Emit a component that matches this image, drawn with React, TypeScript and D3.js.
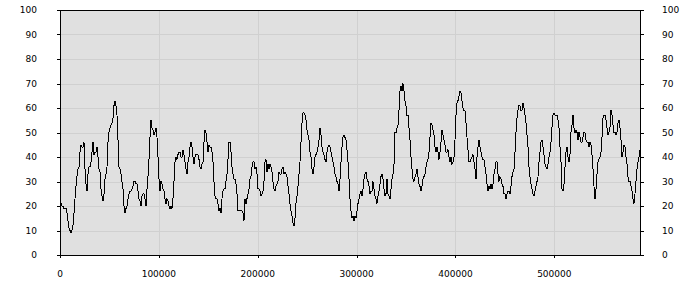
import React from "react";
import * as d3 from "d3";

// x spacing between consecutive samples (data units)
const X_STEP = 1011.5;
const X_MAX = 586670;

// sampled series values (one per step)
const values: number[] = [
  21,21,20,20,19,19,19,17,14,11,10,9,10,12,17,23,28,32,35,36,
  42,45,44,44,46,35,29,26,33,36,36,38,42,46,41,42,42,44,40,35,
  34,27,24,22,25,31,33,36,46,50,52,53,54,56,61,63,61,57,47,36,
  35,33,30,27,20,17,19,20,23,25,26,26,27,28,30,30,29,29,26,23,
  22,20,24,25,25,23,20,27,32,39,48,55,52,51,49,50,52,48,40,31,
  26,30,29,27,26,23,21,23,22,20,19,20,19,23,30,38,40,39,41,42,
  42,40,40,43,41,38,35,33,38,40,44,46,44,40,37,40,41,41,41,39,
  36,35,37,38,46,51,50,46,42,45,44,44,42,38,30,24,23,23,21,18,
  19,17,23,26,27,27,30,33,39,46,46,42,36,33,31,31,29,25,18,18,
  18,18,18,17,14,23,21,23,25,27,31,32,36,38,38,35,36,33,27,27,
  26,24,25,26,30,38,39,34,37,35,37,36,34,30,27,26,28,29,30,34,
  33,33,35,36,33,34,33,32,28,25,21,18,16,13,12,15,21,24,28,33,
  38,46,54,58,58,57,55,51,49,47,42,40,35,33,36,40,41,42,44,47,
  52,49,44,42,41,39,38,42,44,45,44,42,40,38,36,33,32,30,29,26,
  31,38,44,48,49,48,47,43,38,31,23,18,15,16,14,16,15,18,21,23,
  25,26,24,27,31,33,34,31,30,28,25,26,26,30,27,24,23,21,24,26,
  29,32,33,31,27,24,25,31,25,24,23,27,31,33,37,50,50,52,53,59,
  67,69,67,70,67,63,61,57,57,52,47,40,35,31,30,32,33,35,32,29,
  28,26,28,31,32,33,36,38,39,42,48,54,53,51,49,44,42,44,42,39,
  42,46,51,49,47,45,42,42,43,40,38,40,37,38,40,47,57,62,63,65,
  67,66,63,60,59,59,54,48,43,38,38,39,40,41,38,35,31,40,44,47,
  44,42,40,39,39,36,33,29,26,28,27,29,27,29,33,35,38,38,33,30,
  32,31,29,28,25,25,23,25,26,26,25,28,32,34,35,42,50,56,59,61,
  61,59,59,62,60,57,54,49,44,36,32,29,27,25,24,26,28,30,32,38,
  42,46,47,44,41,37,36,35,37,40,42,46,52,57,58,57,57,57,55,52,
  44,38,27,26,29,36,42,44,40,38,41,50,53,57,52,50,51,50,47,50,
  48,46,46,48,50,50,47,46,46,44,46,45,41,35,28,23,27,33,38,39,
  40,42,48,56,57,57,55,52,49,50,52,59,57,53,50,50,49,50,54,55,
  52,47,40,42,45,44,40,37,32,30,30,28,26,23,21,25,30,35,38,40,
  43
];

const yTicks = [0, 10, 20, 30, 40, 50, 60, 70, 80, 90, 100];
const xTicks = [0, 100000, 200000, 300000, 400000, 500000];

const W = 700;
const H = 300;
const left = 60;
const right = 640;
const top = 10;
const bottom = 255;

export default function App() {
  const x = d3.scaleLinear().domain([0, X_MAX]).range([left, right]);
  const y = d3.scaleLinear().domain([0, 100]).range([bottom, top]);
  const line = d3
    .line<number>()
    .x((_, i) => x(i * X_STEP))
    .y((d) => y(d));
  const font = { fontFamily: "'DejaVu Sans', Verdana, sans-serif", fontSize: 9 };
  return (
    <svg
      width={W}
      height={H}
      style={{ position: "absolute", left: 0, top: 0, background: "#fff" }}
    >
      <rect x={left} y={top} width={right - left} height={bottom - top} fill="#e0e0e0" />
      <g shapeRendering="crispEdges">
        {yTicks.slice(1, -1).map((t) => (
          <line key={"gy" + t} x1={left} x2={right} y1={Math.round(y(t)) + 0.5} y2={Math.round(y(t)) + 0.5} stroke="#d0d0d0" />
        ))}
        {xTicks.slice(1).map((t) => (
          <line key={"gx" + t} x1={Math.round(x(t)) + 0.5} x2={Math.round(x(t)) + 0.5} y1={top} y2={bottom} stroke="#d0d0d0" />
        ))}
      </g>
      <path d={line(values) || ""} fill="none" stroke="#000" strokeWidth={1} shapeRendering="crispEdges" />
      <g shapeRendering="crispEdges">
        <rect x={left + 0.5} y={top + 0.5} width={right - left} height={bottom - top} fill="none" stroke="#000" />
        {yTicks.map((t) => (
          <g key={"ty" + t}>
            <line x1={left - 3} x2={left} y1={Math.round(y(t)) + 0.5} y2={Math.round(y(t)) + 0.5} stroke="#000" />
            <line x1={right} x2={right + 4} y1={Math.round(y(t)) + 0.5} y2={Math.round(y(t)) + 0.5} stroke="#000" />
          </g>
        ))}
        {xTicks.map((t) => (
          <line key={"tx" + t} x1={Math.round(x(t)) + 0.5} x2={Math.round(x(t)) + 0.5} y1={bottom} y2={bottom + 3} stroke="#000" />
        ))}
      </g>
      {yTicks.map((t) => (
        <g key={"ly" + t} style={font} fill="#000">
          <text x={37} y={y(t)} dy="0.35em" textAnchor="end">{t}</text>
          <text x={662} y={y(t)} dy="0.35em" textAnchor="start">{t}</text>
        </g>
      ))}
      {xTicks.map((t) => (
        <text key={"lx" + t} x={x(t)} y={277} textAnchor="middle" style={font} fill="#000">
          {t}
        </text>
      ))}
    </svg>
  );
}
